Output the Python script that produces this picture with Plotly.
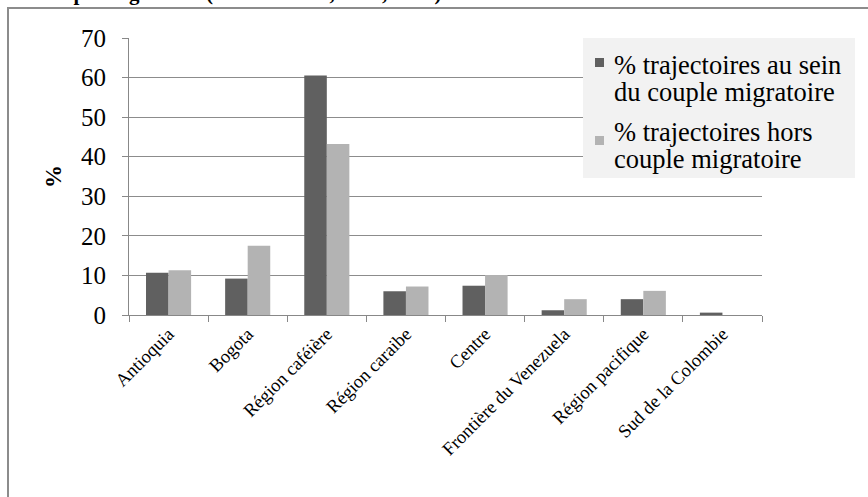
import plotly.graph_objects as go

categories = ["Antioquia", "Bogota", "Région caféière", "Région caraibe", "Centre",
              "Frontière du Venezuela", "Région pacifique", "Sud de la Colombie"]
series_names = ["% trajectoires au sein du couple migratoire",
                "% trajectoires hors couple migratoire"]
legend_lines = [["% trajectoires au sein", "du couple migratoire"],
                ["% trajectoires hors", "couple migratoire"]]
within_couple = [10.7, 9.2, 60.5, 6.0, 7.4, 1.2, 4.0, 0.6]
outside_couple = [11.3, 17.5, 43.2, 7.2, 10.1, 4.0, 6.1, 0.0]
y_ticks = [0, 10, 20, 30, 40, 50, 60, 70]
colors = ["#606060", "#b3b3b3"]
title_text = "s du couple migratoire (Source : ENI, 2008, 2009)"

W, H = 868, 497
L, R, T, B = 129, 106, 38, 182
pw, ph = W - L - R, H - T - B

def px_x(x):
    return (x - L) / pw

def px_y(y):
    return (H - B - y) / ph

font = "Liberation Serif"

fig = go.Figure()
for name, vals, col in zip(series_names, [within_couple, outside_couple], colors):
    fig.add_trace(go.Bar(x=categories, y=vals, name=name,
                         marker=dict(color=col, line=dict(width=0))))

shapes = [dict(type="rect", xref="paper", yref="paper",
               x0=px_x(8), x1=px_x(880), y0=px_y(520), y1=px_y(8),
               line=dict(color="#8c8c8c", width=2), layer="below"),
          dict(type="rect", xref="paper", yref="paper",
               x0=px_x(583), x1=px_x(855), y0=px_y(178), y1=px_y(38),
               fillcolor="#f2f2f2", line=dict(width=0), layer="above")]
annotations = [dict(text="<b>" + title_text + "</b>", xref="paper", yref="paper",
                    x=px_x(-2), y=px_y(-7), xanchor="left", yanchor="middle",
                    showarrow=False, font=dict(size=21, family=font, color="black"))]

sq_tops = [58, 136]
line_centers = [[65, 92], [132, 159]]
for i in range(2):
    shapes.append(dict(type="rect", xref="paper", yref="paper",
                       x0=px_x(595), x1=px_x(604),
                       y0=px_y(sq_tops[i] + 9), y1=px_y(sq_tops[i]),
                       fillcolor=colors[i], line=dict(width=0), layer="above"))
    for txt, cy in zip(legend_lines[i], line_centers[i]):
        annotations.append(dict(text=txt, xref="paper", yref="paper",
                                x=px_x(612), y=px_y(cy), xanchor="left", yanchor="middle",
                                showarrow=False,
                                font=dict(size=26.5, family=font, color="black")))

fig.update_layout(
    width=W, height=H,
    margin=dict(l=L, r=R, t=T, b=B, autoexpand=False),
    paper_bgcolor="white", plot_bgcolor="white",
    barmode="group", bargap=0.43, bargroupgap=0.0,
    font=dict(family=font, color="black"),
    showlegend=False,
    xaxis=dict(showline=True, linecolor="#888888", linewidth=1,
               ticks="outside", ticklen=6, tickcolor="#888888",
               tickson="boundaries", tickangle=-45,
               tickfont=dict(size=18.5, family=font, color="black"), showgrid=False),
    yaxis=dict(range=[0, 70], tickvals=y_ticks, showgrid=True,
               gridcolor="#8c8c8c", gridwidth=1, showline=True,
               linecolor="#888888", ticks="outside", ticklen=6,
               tickcolor="#888888",
               tickfont=dict(size=25, family=font, color="black"),
               ticklabelstandoff=11,
               zeroline=False,
               title=dict(text="<b>%</b>", font=dict(size=23, family=font, color="black"),
                          standoff=12)),
    shapes=shapes,
    annotations=annotations,
)

fig.write_html("out.html", config={"displayModeBar": False},
               post_script="document.body.style.margin='0';")
